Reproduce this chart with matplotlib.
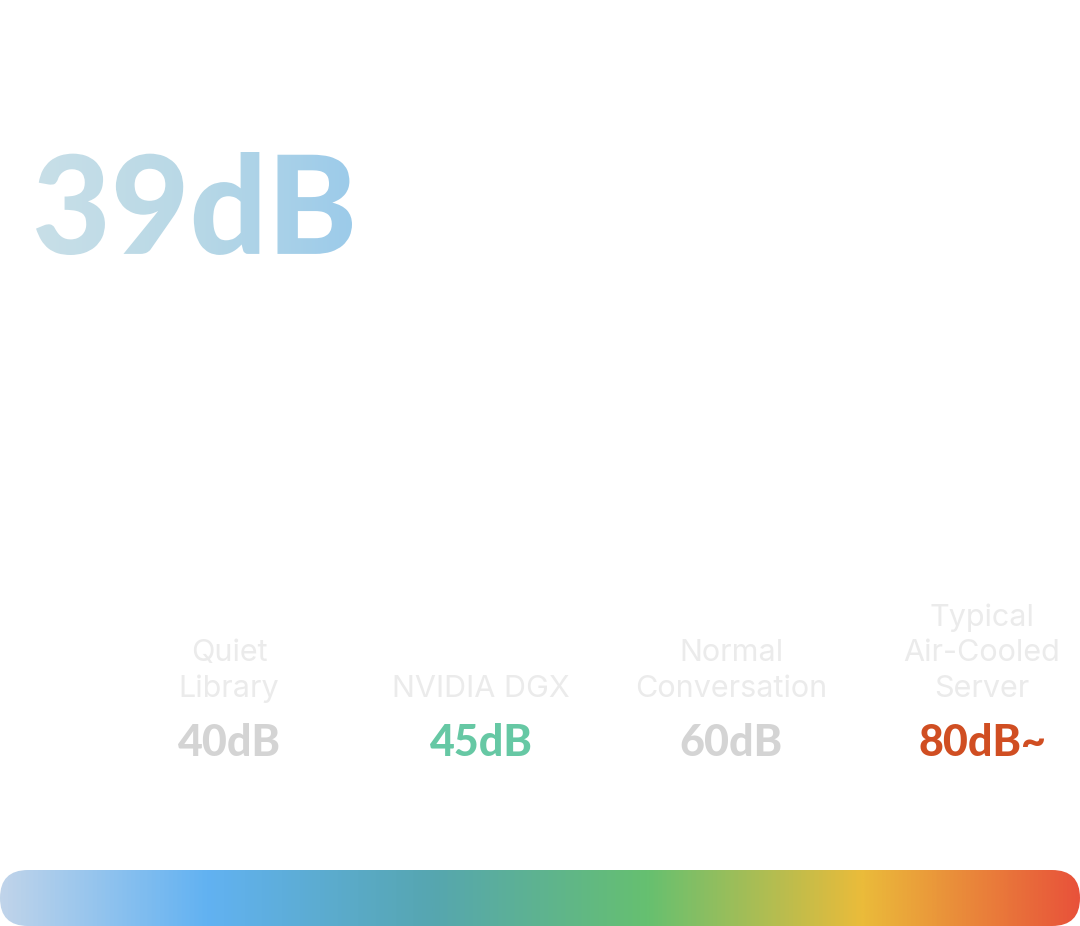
import numpy as np
import matplotlib
matplotlib.use("Agg")
import matplotlib.pyplot as plt
from matplotlib.colors import LinearSegmentedColormap
from matplotlib.patches import FancyBboxPatch, PathPatch
from matplotlib.textpath import TextPath
from matplotlib.font_manager import FontProperties

headline = "39dB"
labels = ["Quiet\nLibrary", "NVIDIA DGX", "Normal\nConversation", "Typical\nAir-Cooled\nServer"]
values = ["40dB", "45dB", "60dB", "80dB~"]
value_colors = ["#d4d4d4", "#66c8a4", "#d4d4d4", "#d04e22"]
positions = [229, 481, 731, 982]

W, H = 1080, 926
fig = plt.figure(figsize=(W/100, H/100), dpi=100)
ax = fig.add_axes([0, 0, 1, 1])
ax.set_xlim(0, W); ax.set_ylim(H, 0); ax.axis("off")

# headline with gradient fill
fp = FontProperties(family="Lato", weight="black")
tp = TextPath((0, 0), headline, size=140, prop=fp)
verts = tp.vertices.copy()
bb = tp.get_extents()
sx = (352 - 36) / bb.width
sy = (255 - 152) / bb.height
verts[:, 0] = 36 + (verts[:, 0] - bb.x0) * sx
verts[:, 1] = 255 - (verts[:, 1] - bb.y0) * sy
from matplotlib.path import Path
p = Path(verts, tp.codes)
patch = PathPatch(p, facecolor="none", edgecolor="none")
ax.add_patch(patch)
cm1 = LinearSegmentedColormap.from_list("h", ["#c8dfe8", "#b8d8e6", "#9ccbea"])
im = ax.imshow(np.linspace(0, 1, 256)[None, :], cmap=cm1, extent=[36, 352, 255, 150], aspect="auto", zorder=2)
im.set_clip_path(patch)

for x, lab, val, c in zip(positions, labels, values, value_colors):
    ax.text(x, 703, lab, ha="center", va="bottom", fontsize=22, color="#ebebeb",
            family="Inter", linespacing=1.35)
    ax.text(x, 743, val, ha="center", va="center", fontsize=31, color=c,
            family="Lato", weight="black")

# gradient bar
cm2 = LinearSegmentedColormap.from_list("b", [(0, "#c0d4ea"), (0.19, "#62b2f2"), (0.4, "#56a6b0"),
                                             (0.6, "#66c070"), (0.8, "#ebbb3a"), (1, "#e8523a")])
bar = FancyBboxPatch((0, 870), W, 56, boxstyle="round,pad=0,rounding_size=28",
                     facecolor="none", edgecolor="none")
ax.add_patch(bar)
im2 = ax.imshow(np.linspace(0, 1, 512)[None, :], cmap=cm2, extent=[0, W, 926, 870], aspect="auto", zorder=2)
im2.set_clip_path(bar)
ax.set_xlim(0, W); ax.set_ylim(H, 0)

fig.savefig("out.png", dpi=100)
